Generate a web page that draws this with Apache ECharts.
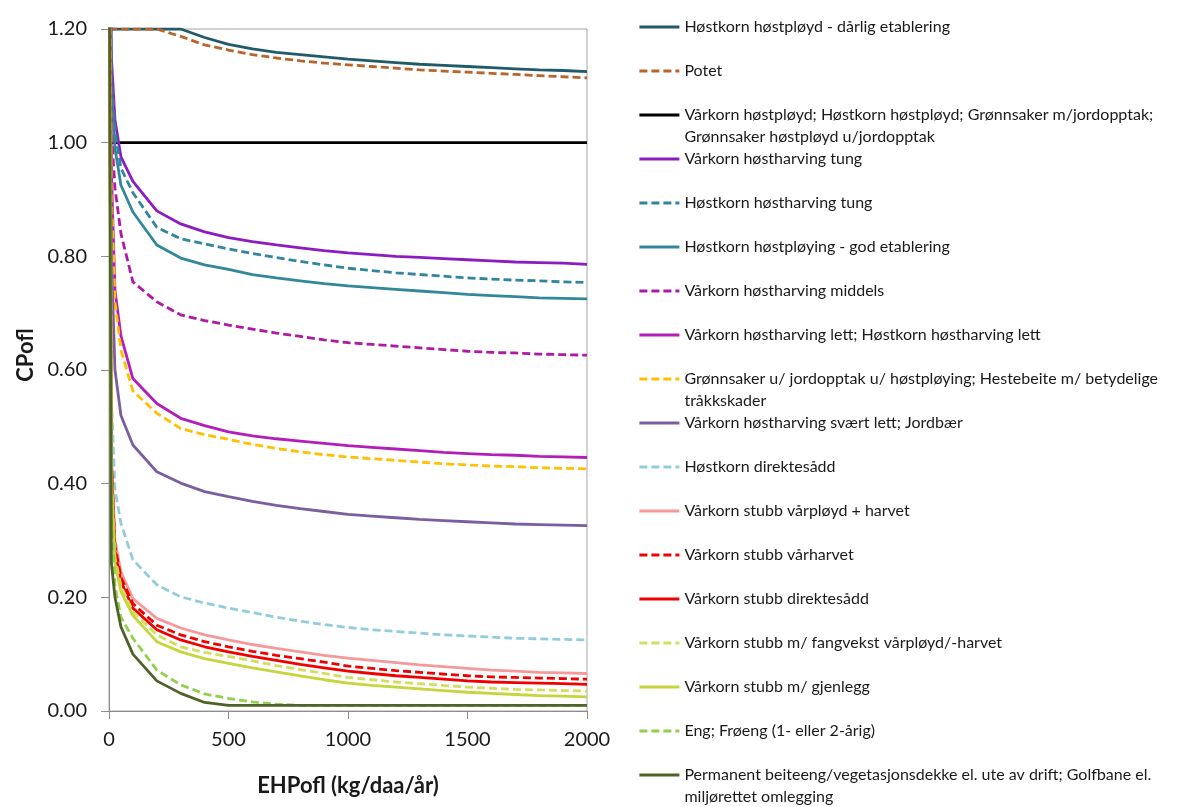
<!DOCTYPE html>
<html>
<head>
<meta charset="utf-8">
<script src="https://cdn.jsdelivr.net/npm/echarts@6/dist/echarts.min.js"></script>
<style>
  html, body { margin: 0; padding: 0; background: #fff; }
  #chart { width: 1197px; height: 807px; }
</style>
</head>
<body>
<div id="chart"></div>
<script>
// Erosion load (EHPofl, kg/daa/år) at which each curve is sampled
const ehpofl = [0, 10, 25, 50, 100, 200, 300, 400, 500, 600, 700, 800, 900, 1000,
  1100, 1200, 1300, 1400, 1500, 1600, 1700, 1800, 1900, 2000];

// CPofl factor per management category (values above 1.20 run off the top of the plot)
const hostkornDarligEtablering = [1.2, 1.2, 1.2, 1.2, 1.2, 1.2, 1.2, 1.185, 1.173, 1.165, 1.159, 1.155, 1.151, 1.147, 1.144, 1.141, 1.138, 1.136, 1.134, 1.132, 1.130, 1.128, 1.127, 1.125];
const potet = [1.2, 1.2, 1.2, 1.2, 1.2, 1.2, 1.187, 1.172, 1.163, 1.155, 1.149, 1.144, 1.140, 1.137, 1.134, 1.131, 1.128, 1.126, 1.124, 1.122, 1.120, 1.118, 1.116, 1.114];
const hostpoydReferanse = [1, 1, 1, 1, 1, 1, 1, 1, 1, 1, 1, 1, 1, 1, 1, 1, 1, 1, 1, 1, 1, 1, 1, 1];
const varkornHarvingTung = [1.5, 1.15, 1.04, 0.975, 0.932, 0.880, 0.857, 0.843, 0.833, 0.826, 0.820, 0.815, 0.810, 0.806, 0.803, 0.800, 0.798, 0.796, 0.794, 0.792, 0.790, 0.789, 0.788, 0.786];
const hostkornHarvingTung = [1.5, 1.12, 1.02, 0.955, 0.912, 0.851, 0.831, 0.822, 0.813, 0.805, 0.798, 0.791, 0.785, 0.779, 0.775, 0.771, 0.768, 0.765, 0.762, 0.760, 0.758, 0.757, 0.755, 0.754];
const hostkornGodEtablering = [1.5, 1.10, 0.99, 0.925, 0.878, 0.820, 0.797, 0.785, 0.777, 0.768, 0.762, 0.757, 0.752, 0.748, 0.745, 0.742, 0.739, 0.736, 0.733, 0.731, 0.729, 0.727, 0.726, 0.725];
const varkornHarvingMiddels = [1.5, 1.02, 0.92, 0.840, 0.755, 0.720, 0.697, 0.687, 0.679, 0.672, 0.665, 0.659, 0.653, 0.648, 0.645, 0.642, 0.639, 0.636, 0.633, 0.631, 0.630, 0.628, 0.627, 0.626];
const harvingLett = [1.5, 0.95, 0.74, 0.66, 0.585, 0.541, 0.515, 0.502, 0.491, 0.484, 0.479, 0.475, 0.471, 0.467, 0.464, 0.461, 0.458, 0.455, 0.453, 0.451, 0.450, 0.448, 0.447, 0.446];
const gronnsakerHestebeite = [1.5, 0.92, 0.72, 0.635, 0.563, 0.524, 0.497, 0.486, 0.478, 0.469, 0.462, 0.456, 0.451, 0.447, 0.444, 0.441, 0.438, 0.435, 0.433, 0.431, 0.430, 0.428, 0.427, 0.426];
const harvingSvaertLett = [1.5, 0.80, 0.60, 0.52, 0.468, 0.421, 0.401, 0.386, 0.377, 0.369, 0.362, 0.356, 0.351, 0.346, 0.343, 0.340, 0.337, 0.335, 0.333, 0.331, 0.329, 0.328, 0.327, 0.326];
const hostkornDirektesadd = [1.5, 0.55, 0.39, 0.33, 0.266, 0.222, 0.201, 0.190, 0.181, 0.173, 0.165, 0.158, 0.152, 0.147, 0.143, 0.140, 0.137, 0.134, 0.132, 0.130, 0.128, 0.127, 0.126, 0.125];
const stubbVarployd = [1.5, 0.45, 0.30, 0.245, 0.198, 0.163, 0.146, 0.134, 0.125, 0.117, 0.110, 0.104, 0.098, 0.093, 0.089, 0.085, 0.081, 0.078, 0.075, 0.072, 0.070, 0.068, 0.067, 0.066];
const stubbVarharvet = [1.5, 0.44, 0.29, 0.235, 0.189, 0.151, 0.134, 0.122, 0.113, 0.105, 0.098, 0.092, 0.086, 0.079, 0.075, 0.071, 0.068, 0.065, 0.062, 0.060, 0.059, 0.058, 0.057, 0.056];
const stubbDirektesadd = [1.5, 0.43, 0.28, 0.228, 0.181, 0.143, 0.125, 0.113, 0.104, 0.096, 0.089, 0.082, 0.076, 0.070, 0.066, 0.062, 0.059, 0.056, 0.053, 0.051, 0.050, 0.049, 0.048, 0.047];
const stubbFangvekst = [1.5, 0.42, 0.27, 0.22, 0.175, 0.134, 0.113, 0.103, 0.096, 0.088, 0.080, 0.073, 0.066, 0.059, 0.055, 0.051, 0.048, 0.045, 0.042, 0.040, 0.038, 0.037, 0.036, 0.035];
const stubbGjenlegg = [1.5, 0.41, 0.26, 0.21, 0.168, 0.122, 0.104, 0.092, 0.084, 0.076, 0.069, 0.062, 0.055, 0.049, 0.045, 0.042, 0.039, 0.036, 0.033, 0.031, 0.029, 0.027, 0.026, 0.025];
const engFroeng = [1.5, 0.35, 0.22, 0.165, 0.128, 0.072, 0.046, 0.030, 0.022, 0.016, 0.012, 0.010, 0.010, 0.010, 0.010, 0.010, 0.010, 0.010, 0.010, 0.010, 0.010, 0.010, 0.010, 0.010];
const permanentBeiteeng = [1.5, 0.26, 0.20, 0.148, 0.100, 0.053, 0.031, 0.015, 0.010, 0.010, 0.010, 0.010, 0.010, 0.010, 0.010, 0.010, 0.010, 0.010, 0.010, 0.010, 0.010, 0.010, 0.010, 0.010];

// Axis tick labels
const yTicks = ['0.00', '0.20', '0.40', '0.60', '0.80', '1.00', '1.20'];
const xTicks = ['0', '500', '1000', '1500', '2000'];

// Category names, in legend order
const names = [
  'Høstkorn høstpløyd - dårlig etablering',
  'Potet',
  'Vårkorn høstpløyd; Høstkorn høstpløyd; Grønnsaker m/jordopptak;\nGrønnsaker høstpløyd u/jordopptak',
  'Vårkorn høstharving tung',
  'Høstkorn høstharving tung',
  'Høstkorn høstpløying - god etablering',
  'Vårkorn høstharving middels',
  'Vårkorn høstharving lett; Høstkorn høstharving lett',
  'Grønnsaker u/ jordopptak u/ høstpløying; Hestebeite m/ betydelige\ntråkkskader',
  'Vårkorn høstharving svært lett; Jordbær',
  'Høstkorn direktesådd',
  'Vårkorn stubb vårpløyd + harvet',
  'Vårkorn stubb vårharvet',
  'Vårkorn stubb direktesådd',
  'Vårkorn stubb m/ fangvekst vårpløyd/-harvet',
  'Vårkorn stubb m/ gjenlegg',
  'Eng; Frøeng (1- eller 2-årig)',
  'Permanent beiteeng/vegetasjonsdekke el. ute av drift; Golfbane el.\nmiljørettet omlegging'
];

const values = [
  hostkornDarligEtablering, potet, hostpoydReferanse, varkornHarvingTung,
  hostkornHarvingTung, hostkornGodEtablering, varkornHarvingMiddels, harvingLett,
  gronnsakerHestebeite, harvingSvaertLett, hostkornDirektesadd, stubbVarployd,
  stubbVarharvet, stubbDirektesadd, stubbFangvekst, stubbGjenlegg, engFroeng, permanentBeiteeng
];

// Line appearance per category
const DASH = [8, 4];
const styles = [
  { color: '#215A69', type: 'solid' },
  { color: '#B8652C', type: DASH },
  { color: '#000000', type: 'solid' },
  { color: '#8C1CC2', type: 'solid' },
  { color: '#31859C', type: DASH },
  { color: '#33879B', type: 'solid' },
  { color: '#AE1AA6', type: DASH },
  { color: '#B41EB8', type: 'solid' },
  { color: '#FFC000', type: DASH },
  { color: '#7B5EA0', type: 'solid' },
  { color: '#93CDDD', type: DASH },
  { color: '#F59A9A', type: 'solid' },
  { color: '#F00000', type: DASH },
  { color: '#F00000', type: 'solid' },
  { color: '#D3DD5E', type: DASH },
  { color: '#C4D63C', type: 'solid' },
  { color: '#92D050', type: DASH },
  { color: '#4F6228', type: 'solid' }
];

const FONT = 'Lato, "Open Sans", sans-serif';
const LEGEND_LINE = 22;

const series = names.map((name, i) => ({
  name: name,
  type: 'line',
  symbol: 'none',
  clip: true,
  animation: false,
  data: ehpofl.map((x, j) => [x, values[i][j]]),
  lineStyle: { color: styles[i].color, width: 2.8, type: styles[i].type, cap: 'butt' },
  itemStyle: { color: styles[i].color }
}));

// One legend block per category so every entry sits on a fixed 44 px row
const legends = names.map((name, i) => {
  const twoLine = name.indexOf('\n') >= 0;
  const rowCenter = 27 + 44 * i;
  return {
    data: [name],
    orient: 'vertical',
    left: 638,
    top: rowCenter - (twoLine ? LEGEND_LINE * 1.5 : LEGEND_LINE / 2),
    padding: 0,
    itemWidth: 40,
    itemHeight: 14,
    selectedMode: false,
    itemStyle: { opacity: 0 },
    lineStyle: { width: 2.8 },
    formatter: (n) => (n.indexOf('\n') >= 0 ? '\n' + n : n),
    textStyle: { fontFamily: FONT, fontSize: 16, color: '#1a1a1a', lineHeight: LEGEND_LINE }
  };
});

const chart = echarts.init(document.getElementById('chart'), null, { renderer: 'canvas' });
chart.setOption({
  backgroundColor: '#ffffff',
  animation: false,
  grid: {
    left: 109, right: 610, top: 29, bottom: 96,
    show: true, borderColor: '#A6A6A6', borderWidth: 1, backgroundColor: 'transparent'
  },
  legend: legends,
  xAxis: {
    type: 'value', min: 0, max: 2000, interval: 500,
    name: 'EHPofl (kg/daa/år)', nameLocation: 'middle', nameGap: 64,
    nameTextStyle: { fontFamily: FONT, fontSize: 22, fontWeight: 'bold', color: '#1a1a1a' },
    axisLine: { show: true, lineStyle: { color: '#8C8C8C', width: 1 } },
    axisTick: { show: true, length: 8, lineStyle: { color: '#8C8C8C' } },
    axisLabel: {
      margin: 19, fontFamily: FONT, fontSize: 20, color: '#1a1a1a',
      formatter: (v) => xTicks[Math.round(v / 500)]
    },
    splitLine: { show: false }
  },
  yAxis: {
    type: 'value', min: 0, max: 1.2, interval: 0.2,
    name: 'CPofl', nameLocation: 'middle', nameGap: 72, nameRotate: 90,
    nameTextStyle: {
      fontFamily: FONT, fontSize: 22, fontWeight: 'bold', color: '#1a1a1a',
      padding: [0, 0, 0, 30]
    },
    axisLine: { show: true, lineStyle: { color: '#8C8C8C', width: 1 } },
    axisTick: { show: true, length: 8, lineStyle: { color: '#8C8C8C' } },
    axisLabel: {
      margin: 22, fontFamily: FONT, fontSize: 20, color: '#1a1a1a',
      formatter: (v) => yTicks[Math.round(v / 0.2)]
    },
    splitLine: { show: false }
  },
  series: series
});
</script>
</body>
</html>
